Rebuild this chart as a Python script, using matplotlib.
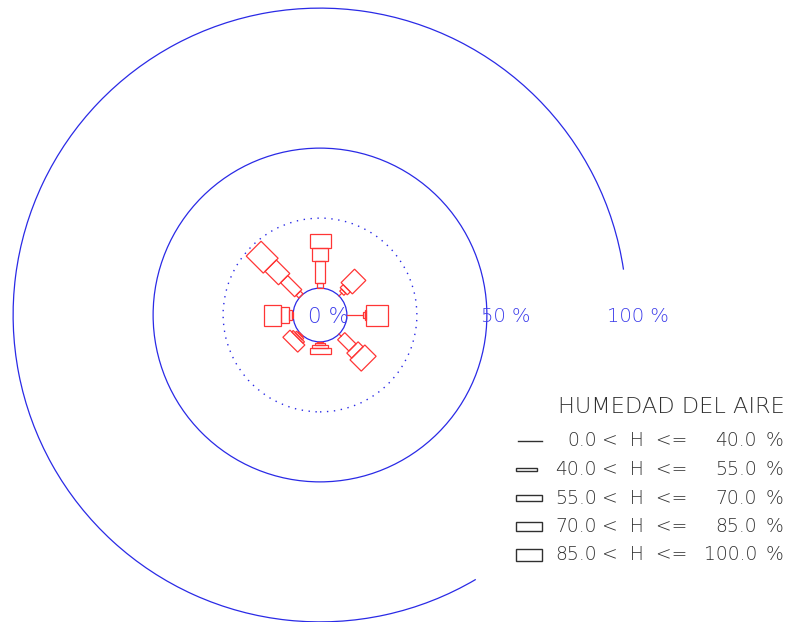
import numpy as np
import matplotlib
matplotlib.use("Agg")
import matplotlib.pyplot as plt
from matplotlib.patches import Circle, Arc, Polygon, Rectangle

# rosa de humedad: 8 direcciones, frecuencia (%) por clase de humedad
direcciones = ['N', 'NE', 'E', 'SE', 'S', 'SO', 'O', 'NO']
angulos = [90, 45, 0, -45, -90, -135, 180, 135]

h_0_40 = [0.0, 1.4, 5.7, 1.1, 0.0, 0.0, 0.0, 0.0]
h_40_55 = [1.8, 1.0, 0.6, 0.0, 0.4, 0.4, 0.4, 1.4]
h_55_70 = [7.9, 1.5, 0.6, 5.7, 0.7, 0.7, 1.1, 7.1]
h_70_85 = [4.6, 6.8, 0.0, 2.5, 1.1, 0.7, 2.9, 6.8]
h_85_100 = [5.0, 0.0, 7.7, 5.7, 2.1, 3.6, 6.1, 8.6]
clases = [h_0_40, h_40_55, h_55_70, h_70_85, h_85_100]

limites = [0.0, 40.0, 55.0, 70.0, 85.0, 100.0]
anchos = [0.0, 2.1, 3.6, 5.7, 7.5]   # ancho de la barra por clase
r0 = 9.6                              # radio del circulo 0 %
circulos = [25, 50, 100]

ROJO = '#ff3535'
AZUL = '#2a2ae6'
AZUL_TXT = '#3b3bea'
GRIS = '#303030'

W, H = 792, 622
escala = 2.8          # px por unidad
cx, cy = 320, 315     # centro en px

fig = plt.figure(figsize=(W / 100, H / 100), dpi=100)
fig.patch.set_facecolor('white')
ax = fig.add_axes([0, 0, 1, 1])
ax.set_xlim(-cx / escala, (W - cx) / escala)
ax.set_ylim(-(H - cy) / escala, cy / escala)
ax.set_aspect('equal')
ax.axis('off')

# circulos de referencia
ax.add_patch(Circle((0, 0), r0, fill=False, ec=AZUL, lw=0.9))
ax.add_patch(Circle((0, 0), r0 + circulos[0], fill=False, ec=AZUL, lw=1.0,
                    ls=(0, (1, 4))))
ax.add_patch(Circle((0, 0), r0 + circulos[1], fill=False, ec=AZUL, lw=0.9))
ax.add_patch(Arc((0, 0), 2 * (r0 + circulos[2]), 2 * (r0 + circulos[2]),
                 theta1=8.5, theta2=300.5, ec=AZUL, lw=0.9))

# barras
for i, ang in enumerate(angulos):
    t = np.radians(ang)
    u = np.array([np.cos(t), np.sin(t)])
    v = np.array([-np.sin(t), np.cos(t)])
    r = r0
    for k, serie in enumerate(clases):
        L = serie[i]
        if L <= 0:
            continue
        w = anchos[k] / 2
        if w == 0:
            p1, p2 = u * r, u * (r + L)
            ax.plot([p1[0], p2[0]], [p1[1], p2[1]], color=ROJO, lw=0.9)
        else:
            pts = [u * r + v * w, u * (r + L) + v * w,
                   u * (r + L) - v * w, u * r - v * w]
            ax.add_patch(Polygon(pts, closed=True, fill=False, ec=ROJO, lw=0.9))
        r += L

# etiquetas de los circulos
fuente = dict(family='DejaVu Sans', fontweight='light')
ax.text(2.9, -0.6, '0 %', color=AZUL_TXT, fontsize=15.5, ha='center', va='center', **fuente)
ax.text(57.4, -0.6, '50 %', color=AZUL_TXT, fontsize=14, ha='left', va='center', **fuente)
ax.text(102.5, -0.6, '100 %', color=AZUL_TXT, fontsize=14, ha='left', va='center', **fuente)

# leyenda (coordenadas en px)
lg = fig.add_axes([0, 0, 1, 1])
lg.set_xlim(0, W)
lg.set_ylim(H, 0)
lg.axis('off')
lg.patch.set_alpha(0)

lg.text(558, 407, 'HUMEDAD DEL AIRE', color=GRIS, fontsize=16.2, ha='left',
        va='center', **fuente)
for k in range(5):
    y = 441 + 28.5 * k
    h = anchos[k] * escala * 0.55
    if h == 0:
        lg.plot([518, 542], [y, y], color=GRIS, lw=1.0)
    else:
        lg.add_patch(Rectangle((516, y - h / 2), 26 if k > 1 else 21, h,
                               fill=False, ec=GRIS, lw=1.0))
    lg.text(597, y, f'{limites[k]:.1f}', color=GRIS, fontsize=13.5, ha='right',
            va='center', **fuente)
    lg.text(602, y, '<  H  <=', color=GRIS, fontsize=13.5, ha='left',
            va='center', **fuente)
    lg.text(757, y, f'{limites[k + 1]:.1f}', color=GRIS, fontsize=13.5,
            ha='right', va='center', **fuente)
    lg.text(766, y, '%', color=GRIS, fontsize=13.5, ha='left', va='center',
            **fuente)

fig.savefig('out.png', dpi=100, facecolor='white')
